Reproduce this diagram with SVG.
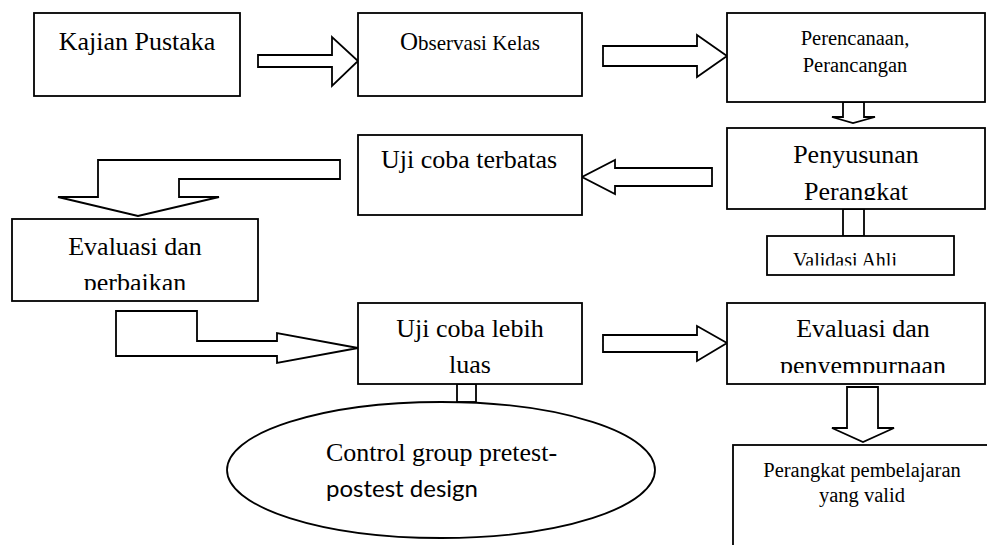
<svg xmlns="http://www.w3.org/2000/svg" width="987" height="545" viewBox="0 0 987 545">
<style>
.box{fill:#fff;stroke:#000;stroke-width:1.8}
.arr{fill:#fff;stroke:#000;stroke-width:1.8;stroke-linejoin:miter}
.t{font-family:"Liberation Serif","Times New Roman",serif;fill:#000;text-anchor:middle}
.s{font-family:Lato,"Open Sans",sans-serif;fill:#000}
</style>
<defs>
<clipPath id="c1"><rect x="727" y="128" width="258" height="72"/></clipPath>
<clipPath id="c2"><rect x="12" y="219" width="246" height="71"/></clipPath>
<clipPath id="c3"><rect x="727" y="303" width="258" height="70"/></clipPath>
<clipPath id="c4"><rect x="767" y="236" width="187" height="29.5"/></clipPath>
</defs>
<rect width="987" height="545" fill="#fff"/>
<g id="connectors">
<polygon class="arr" points="258,55 332,55 332,37 358,61 332,86 332,67 258,67"/>
<polygon class="arr" points="603,46 697,46 697,35 727,56 697,77 697,66 603,66"/>
<polygon class="arr" points="843,102 843,117 832,117 853,123 875,117 864,117 864,102"/>
<polygon class="arr" points="712,168 615,168 615,160 582,177 615,194 615,186 712,186"/>
<polygon class="arr" points="340,160 98,160 98,197 58,197 138,216 219,197 179,197 179,179 340,179"/>
<polygon class="arr" points="116,311 197,311 197,341 277,341 277,333 358,348 277,363 277,356 116,356"/>
<polygon class="arr" points="603,335 697,335 697,326 727,343 697,361 697,352 603,352"/>
<rect class="arr" x="843" y="209" width="21" height="27"/>
<rect class="arr" x="457" y="384" width="19" height="18"/>
<polygon class="arr" points="847,387 878,387 878,428 894,428 863,442 832,428 847,428"/>
</g>
<g id="kajian">
<rect class="box" x="34" y="13" width="206" height="83"/>
<text class="t" x="137" y="50" font-size="26">Kajian Pustaka</text>
</g>
<g id="observasi">
<rect class="box" x="358" y="13" width="224" height="83"/>
<text class="t" x="470" y="50" font-size="21"><tspan font-size="25">O</tspan>bservasi Kelas</text>
</g>
<g id="perencanaan">
<rect class="box" x="727" y="13" width="258" height="89"/>
<text class="t" x="855" y="45" font-size="20.5">Perencanaan,</text>
<text class="t" x="855" y="72" font-size="20.5">Perancangan</text>
</g>
<g id="penyusunan">
<rect class="box" x="727" y="128" width="258" height="81"/>
<g clip-path="url(#c1)">
<text class="t" x="856" y="163" font-size="26">Penyusunan</text>
<text class="t" x="856" y="200" font-size="26">Perangkat</text>
</g>
</g>
<g id="validasi">
<rect class="box" x="767" y="236" width="187" height="39"/>
<g clip-path="url(#c4)">
<text class="t" x="845" y="267" font-size="20">Validasi Ahli</text>
</g>
</g>
<g id="ujiterbatas">
<rect class="box" x="358" y="135" width="224" height="80"/>
<text class="t" x="469" y="168" font-size="26">Uji coba terbatas</text>
</g>
<g id="evaluasi1">
<rect class="box" x="12" y="219" width="246" height="82"/>
<g clip-path="url(#c2)">
<text class="t" x="135" y="255" font-size="26">Evaluasi dan</text>
<text class="t" x="135" y="291" font-size="26">perbaikan</text>
</g>
</g>
<g id="ujiluas">
<rect class="box" x="358" y="303" width="224" height="81"/>
<text class="t" x="470" y="337" font-size="26">Uji coba lebih</text>
<text class="t" x="470" y="373" font-size="26">luas</text>
</g>
<g id="evaluasi2">
<rect class="box" x="727" y="303" width="258" height="81"/>
<g clip-path="url(#c3)">
<text class="t" x="863" y="337" font-size="26">Evaluasi dan</text>
<text class="t" x="863" y="374" font-size="26">penyempurnaan</text>
</g>
</g>
<g id="control">
<ellipse class="box" cx="441" cy="470" rx="214" ry="68"/>
<text class="t" x="326" y="461" font-size="26" text-anchor="start" style="text-anchor:start">Control group pretest-</text>
<text class="s" x="326" y="497" font-size="24">postest design</text>
</g>
<g id="perangkat">
<rect class="box" x="733" y="445" width="270" height="120"/>
<text class="t" x="862" y="477" font-size="20.5">Perangkat pembelajaran</text>
<text class="t" x="862" y="502" font-size="20.5">yang valid</text>
</g>
</svg>
